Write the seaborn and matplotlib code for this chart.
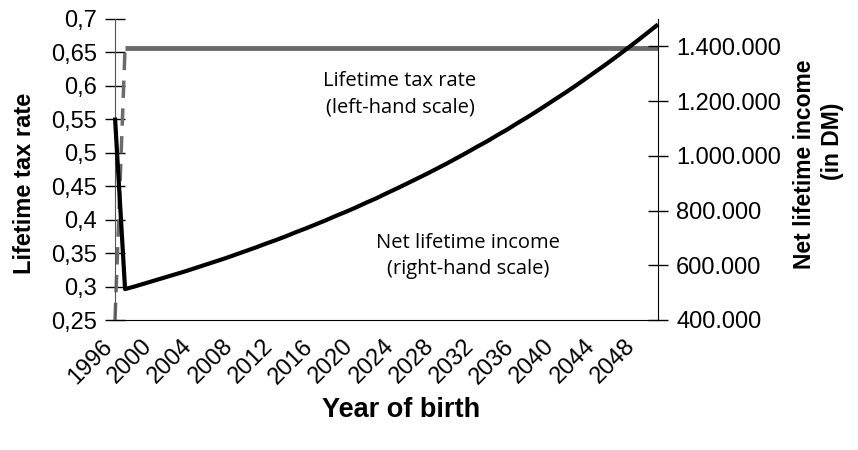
import matplotlib
matplotlib.use("Agg")
import matplotlib.pyplot as plt
import matplotlib.transforms as mtransforms
import seaborn as sns
from matplotlib.ticker import FuncFormatter

years = list(range(1996, 2051))

tax_rate = [0.25,
            0.657, 0.657, 0.657, 0.657, 0.657, 0.657, 0.657, 0.657, 0.657, 0.657,
            0.657, 0.657, 0.657, 0.657, 0.657, 0.657, 0.657, 0.657, 0.657, 0.657,
            0.657, 0.657, 0.657, 0.657, 0.657, 0.657, 0.657, 0.657, 0.657, 0.657,
            0.657, 0.657, 0.657, 0.657, 0.657, 0.657, 0.657, 0.657, 0.657, 0.657,
            0.657, 0.657, 0.657, 0.657, 0.657, 0.657, 0.657, 0.657, 0.657, 0.657,
            0.657, 0.657, 0.657, 0.657]

net_income = [1140000,
              513000, 523000, 534000, 545000, 556000, 567000, 578000, 590000, 602000, 614000,
              626000, 639000, 652000, 665000, 679000, 692000, 706000, 721000, 735000, 750000,
              765000, 781000, 796000, 812000, 829000, 845000, 863000, 880000, 898000, 916000,
              934000, 953000, 972000, 992000, 1012000, 1033000, 1053000, 1075000, 1096000, 1119000,
              1141000, 1164000, 1188000, 1212000, 1236000, 1261000, 1287000, 1313000, 1339000, 1366000,
              1394000, 1422000, 1451000, 1480000]

label_years = [1996, 2000, 2004, 2008, 2012, 2016, 2020, 2024, 2028, 2032, 2036, 2040, 2044, 2048]
left_ticks = [0.25, 0.3, 0.35, 0.4, 0.45, 0.5, 0.55, 0.6, 0.65, 0.7]
right_ticks = [400000, 600000, 800000, 1000000, 1200000, 1400000]

sns.set_style("white")
plt.rcParams['font.family'] = ['Liberation Sans', 'DejaVu Sans']
plt.rcParams.update({"text.color": "black", "axes.labelcolor": "black",
                     "xtick.color": "black", "ytick.color": "black"})

fig = plt.figure(figsize=(8.58, 4.5), dpi=100)
ax = fig.add_axes([115/858, 1-320/450, (658-115)/858, (320-19)/450])
ax2 = ax.twinx()

gray = "#6b6b6b"
sns.lineplot(x=years[1:], y=tax_rate[1:], ax=ax, color=gray, linewidth=3.5)
sns.lineplot(x=years[:2], y=tax_rate[:2], ax=ax, color=gray, linewidth=2.5)
ax.lines[-1].set_dashes([5, 3])
sns.lineplot(x=years, y=net_income, ax=ax2, color="black", linewidth=3)
for ln in ax.lines + ax2.lines:
    ln.set_clip_on(False)
    ln.set_solid_capstyle("butt")

ax.set_xlim(1996, 2050)
ax.set_ylim(0.25, 0.7)
ax2.set_ylim(400000, 1500000)

ax.set_xticks(years)
ax.set_xticklabels([str(y) if y in label_years else "" for y in years],
                   rotation=45, ha="right", va="top", rotation_mode="anchor", fontsize=17)
ax.set_yticks(left_ticks)
ax.yaxis.set_major_formatter(FuncFormatter(lambda v, p: ("%g" % round(v, 2)).replace(".", ",")))
ax2.set_yticks(right_ticks)
ax2.yaxis.set_major_formatter(FuncFormatter(lambda v, p: "{:,.0f}".format(v).replace(",", ".")))

ax.tick_params(axis="x", direction="inout", length=10, width=1, color="black", labelcolor="black", pad=6)
ax.tick_params(axis="y", direction="inout", length=14, width=1, color="black", labelcolor="black",
               labelsize=17, pad=6)
ax2.tick_params(axis="y", direction="inout", length=14, width=1, color="black", labelcolor="black",
                labelsize=17, pad=6)

shift = mtransforms.ScaledTranslation(-14/100, 0, fig.dpi_scale_trans)
for lbl in ax.get_xticklabels():
    lbl.set_transform(lbl.get_transform() + shift)

for a in (ax, ax2):
    a.spines["top"].set_visible(False)
    a.grid(False)
ax.spines["right"].set_visible(False)
ax2.spines["left"].set_visible(False)
ax2.spines["bottom"].set_visible(False)
ax.spines["left"].set_color("#555555")
ax.spines["bottom"].set_color("black")
ax2.spines["right"].set_color("black")

ax.set_xlabel("Year of birth", fontsize=19.5, fontweight="bold")
ax.xaxis.set_label_coords((401-115)/543, (320-410)/301)
ax.xaxis.label.set_va("center")
ax.set_ylabel("Lifetime tax rate", fontsize=17, fontweight="bold")
ax.yaxis.set_label_coords((25-115)/543, (320-183)/301)
ax.yaxis.label.set_va("center")
ax2.set_ylabel("Net lifetime income", fontsize=16.5, fontweight="bold")
ax2.yaxis.set_label_coords((804-115)/543, (320-164)/301)
ax2.yaxis.label.set_va("center")
fig.text(833/858, 1-141/450, "(in DM)", rotation=90, ha="center", va="center",
         fontsize=16.5, fontweight="bold")

ax.text(400/858, 1-94/450, "Lifetime tax rate\n(left-hand scale)", transform=fig.transFigure,
        ha="center", va="center", fontsize=14.5, family=["Open Sans", "DejaVu Sans"],
        fontweight="normal", linespacing=1.4)
ax.text(468/858, 1-256/450, "Net lifetime income\n(right-hand scale)", transform=fig.transFigure,
        ha="center", va="center", fontsize=14.5, family=["Open Sans", "DejaVu Sans"],
        fontweight="normal", linespacing=1.4)

fig.savefig("out.png", dpi=100)
